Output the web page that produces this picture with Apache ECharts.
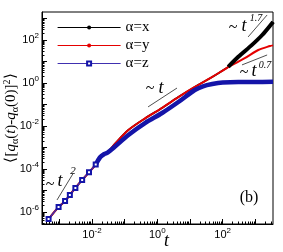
<!DOCTYPE html>
<html><head><meta charset="utf-8">
<script src="https://cdn.jsdelivr.net/npm/echarts@6/dist/echarts.min.js"></script>
<style>html,body{margin:0;padding:0;background:#fff}#c{width:283px;height:252px}</style>
</head><body><div id="c"></div><script>
// ---- data (t, <[q(t)-q(0)]^2>) ----
const blackT = [4.7e-4, 9.5e-4, 1.5e-3, 2.1e-3, 3.1e-3, 5.0e-3, 8.1e-3, 1.3e-2, 1.8e-2, 2.4e-2, 3.0e-2, 5.1e-2, 0.13, 0.43, 1.4, 4.4, 14, 48, 100, 148, 295, 790, 1620, 3300, 3470];
const blackY = [4.7e-7, 1.7e-6, 3.2e-6, 6.2e-6, 1.3e-5, 3.1e-5, 7.0e-5, 1.6e-4, 3.6e-4, 5.0e-4, 5.8e-4, 1.5e-3, 6.5e-3, 2.3e-2, 6.9e-2, 0.22, 0.65, 1.9, 3.8, 5.6, 16, 59, 170, 620, 690];
const redT = [4.7e-4, 9.5e-4, 1.5e-3, 2.1e-3, 3.1e-3, 5.0e-3, 8.1e-3, 1.3e-2, 1.8e-2, 2.4e-2, 3.0e-2, 5.1e-2, 0.13, 0.43, 1.4, 4.4, 14, 48, 148, 490, 1230, 2800, 3470];
const redY = [4.7e-7, 1.7e-6, 3.2e-6, 6.2e-6, 1.3e-5, 3.1e-5, 7.0e-5, 1.6e-4, 3.6e-4, 5.0e-4, 5.8e-4, 1.5e-3, 6.5e-3, 2.3e-2, 6.9e-2, 0.22, 0.65, 1.9, 5.5, 14.5, 34, 52, 56];
const blueT = [4.7e-4, 9.5e-4, 1.5e-3, 2.1e-3, 3.1e-3, 5.0e-3, 8.1e-3, 1.3e-2, 1.8e-2, 2.4e-2, 3.0e-2, 4.7e-2, 0.13, 0.43, 1.4, 4.4, 14, 25, 48, 100, 300, 1000, 3470];
const blueY = [4.7e-7, 1.7e-6, 3.2e-6, 6.2e-6, 1.3e-5, 3.1e-5, 7.0e-5, 1.6e-4, 3.6e-4, 5.0e-4, 5.8e-4, 1.0e-3, 3.8e-3, 1.4e-2, 4.0e-2, 0.13, 0.47, 0.70, 0.89, 1.05, 1.12, 1.12, 1.15];
// guide segments [t1, y1, t2, y2]
const guides = [
  [0.52, 0.077, 4.0, 0.58],        // ~ t
  [600, 138, 2290, 1450],          // ~ t^1.7
  [390, 6.9, 2290, 20],            // ~ t^0.7
  [8.5e-4, 3.6e-6, 2.6e-3, 5.9e-5] // ~ t^2
];
const xLabelExps = [-2, 0, 2];
const yLabelExps = [2, 0, -2, -4, -6];
const xDecades = [-3, -2, -1, 0, 1, 2, 3];
const yDecades = [-6, -5, -4, -3, -2, -1, 0, 1, 2, 3];
const legendNames = ['\u03b1=x', '\u03b1=y', '\u03b1=z'];

const L = Math.log10;
const XMIN = -3.53, XMAX = 3.54, YMIN = -6.56, YMAX = 3.30;
function minors(decs, lo, hi) {
  const out = [];
  decs.concat([decs[0] - 1]).forEach(d => { for (let k = 2; k <= 9; k++) { const v = d + L(k); if (v > lo && v < hi) out.push(v); } });
  return out;
}
const pts = (T, Y) => T.map((t, i) => [L(t), L(Y[i])]);
const blackPts = pts(blackT, blackY), redPts = pts(redT, redY), bluePts = pts(blueT, blueY);
const fmt = v => '{b|10}{s|' + Math.round(v) + '}';
const labRich = {
  b: { fontFamily: 'Liberation Sans', fontSize: 11, color: '#000', lineHeight: 16 },
  s: { fontFamily: 'Liberation Sans', fontSize: 8, color: '#000', lineHeight: 9, verticalAlign: 'top' }
};
const serif = 'Liberation Serif';

const chart = echarts.init(document.getElementById('c'), null, { renderer: 'canvas' });
const tickStyle = { color: '#000', width: 1 };
const option = {
  animation: false,
  backgroundColor: '#fff',
  grid: { left: 42, right: 10, top: 12, bottom: 28, show: true, borderColor: '#000', borderWidth: 1, backgroundColor: 'transparent', containLabel: false, outerBoundsMode: 'none' },
  legend: {
    data: legendNames, left: 52, top: 15, orient: 'vertical', itemWidth: 63, itemHeight: 5, itemGap: 3,
    selectedMode: false, textStyle: { fontFamily: serif, fontSize: 15, color: '#000', lineHeight: 15 },
    lineStyle: { width: 1.2 }
  },
  xAxis: [
    { type: 'value', min: XMIN, max: XMAX, position: 'bottom',
      axisLine: { show: true, onZero: false, lineStyle: tickStyle },
      splitLine: { show: false },
      axisTick: { show: true, inside: true, length: 5, customValues: xDecades, lineStyle: tickStyle },
      axisLabel: { customValues: xLabelExps, formatter: fmt, rich: labRich, margin: 3 },
      name: 't', nameLocation: 'middle', nameGap: 8, nameMoveOverlap: false,
      nameTextStyle: { fontFamily: serif, fontStyle: 'italic', fontSize: 18, color: '#000', padding: [0, 0, 0, 18] } },
    { type: 'value', min: XMIN, max: XMAX, position: 'bottom',
      axisLine: { show: false, onZero: false }, splitLine: { show: false },
      axisTick: { show: true, inside: true, length: 2.5, customValues: minors(xDecades, XMIN, XMAX), lineStyle: tickStyle },
      axisLabel: { show: false } }
  ],
  yAxis: [
    { type: 'value', min: YMIN, max: YMAX, position: 'left',
      axisLine: { show: true, onZero: false, lineStyle: tickStyle },
      splitLine: { show: false },
      axisTick: { show: true, inside: true, length: 5, customValues: yDecades, lineStyle: tickStyle },
      axisLabel: { customValues: yLabelExps, formatter: fmt, rich: labRich, margin: 3 },
      name: '\u27e8[{i|q}{sub|\u03b1}({i|t})-{i|q}{sub|\u03b1}(0)]{sup|2}\u27e9', nameLocation: 'middle', nameGap: 22, nameMoveOverlap: false,
      nameTextStyle: { fontFamily: serif, fontSize: 15, color: '#000', lineHeight: 18,
        rich: {
          i: { fontFamily: serif, fontStyle: 'italic', fontSize: 15, color: '#000', lineHeight: 18 },
          sub: { fontFamily: serif, fontSize: 10, color: '#000', lineHeight: 10, verticalAlign: 'bottom' },
          sup: { fontFamily: serif, fontSize: 10, color: '#000', lineHeight: 10, verticalAlign: 'top' }
        } } },
    { type: 'value', min: YMIN, max: YMAX, position: 'left',
      axisLine: { show: false, onZero: false }, splitLine: { show: false },
      axisTick: { show: true, inside: true, length: 2.5, customValues: minors(yDecades, YMIN, YMAX), lineStyle: tickStyle },
      axisLabel: { show: false } }
  ],
  series: [
    { name: legendNames[0], type: 'line', data: blackPts, color: '#000', symbol: 'circle', symbolSize: 4, showSymbol: false,
      lineStyle: { width: 1.8, color: '#000' }, smooth: 0.3, z: 2 },
    { name: legendNames[1], type: 'line', data: redPts, color: '#e50000', symbol: 'circle', symbolSize: 3, showSymbol: false,
      lineStyle: { width: 2, color: '#e50000' }, smooth: 0.3, z: 3 },
    { name: 'x-late', type: 'line', data: blackPts.filter(p => p[0] >= 2.1), color: '#000', symbol: 'none',
      lineStyle: { width: 4, color: '#000' }, smooth: 0.3, z: 4 },
    { name: legendNames[2], type: 'line', color: '#1414a8', symbol: 'emptyRect', symbolSize: 4,
      data: bluePts.map((p, i) => ({ value: p, symbol: i < 8 ? 'emptyRect' : 'none' })),
      itemStyle: { color: '#1414a8', borderColor: '#3a3ab8', borderWidth: 1 },
      lineStyle: { width: 1.5, color: '#4030b0' }, smooth: 0.3, z: 5 },
    { name: 'z-late', type: 'line', data: bluePts.filter(p => p[0] >= -2.0), color: '#1414a8', symbol: 'none',
      lineStyle: { width: 4.5, color: '#1414a8' }, smooth: 0.3, z: 5 },
  ].concat(guides.map((g, k) => ({
    name: 'guide' + k, type: 'line', symbol: 'none', silent: true, z: 6,
    data: [[L(g[0]), L(g[1])], [L(g[2]), L(g[3])]],
    lineStyle: { width: 0.8, color: '#222' }
  }))),
  graphic: [
    { type: 'text', x: 150, y: 89, style: { text: '~', font: '16px "Liberation Serif"', fill: '#000', textAlign: 'center', textVerticalAlign: 'middle' } },
    { type: 'text', x: 161, y: 88, style: { text: 't', font: 'italic 18px "Liberation Serif"', fill: '#000', textAlign: 'center', textVerticalAlign: 'middle' } },
    { type: 'text', x: 233, y: 28, style: { text: '~', font: '16px "Liberation Serif"', fill: '#000', textAlign: 'center', textVerticalAlign: 'middle' } },
    { type: 'text', x: 244, y: 26, style: { text: 't', font: 'italic 18px "Liberation Serif"', fill: '#000', textAlign: 'center', textVerticalAlign: 'middle' } },
    { type: 'text', x: 256, y: 18, style: { text: '1.7', font: 'italic 10px "Liberation Serif"', fill: '#000', textAlign: 'center', textVerticalAlign: 'middle' } },
    { type: 'text', x: 244, y: 73, style: { text: '~', font: '16px "Liberation Serif"', fill: '#000', textAlign: 'center', textVerticalAlign: 'middle' } },
    { type: 'text', x: 254, y: 71, style: { text: 't', font: 'italic 18px "Liberation Serif"', fill: '#000', textAlign: 'center', textVerticalAlign: 'middle' } },
    { type: 'text', x: 265, y: 65, style: { text: '0.7', font: 'italic 10px "Liberation Serif"', fill: '#000', textAlign: 'center', textVerticalAlign: 'middle' } },
    { type: 'text', x: 50, y: 185, style: { text: '~', font: '16px "Liberation Serif"', fill: '#000', textAlign: 'center', textVerticalAlign: 'middle' } },
    { type: 'text', x: 60, y: 181, style: { text: 't', font: 'italic 18px "Liberation Serif"', fill: '#000', textAlign: 'center', textVerticalAlign: 'middle' } },
    { type: 'text', x: 73, y: 171, style: { text: '2', font: 'italic 11px "Liberation Serif"', fill: '#000', textAlign: 'center', textVerticalAlign: 'middle' } },
    { type: 'text', x: 249, y: 198, style: { text: '(b)', font: '16px "Liberation Serif"', fill: '#000', textAlign: 'center', textVerticalAlign: 'middle' } }
  ]
};
chart.setOption(option);
</script></body></html>
